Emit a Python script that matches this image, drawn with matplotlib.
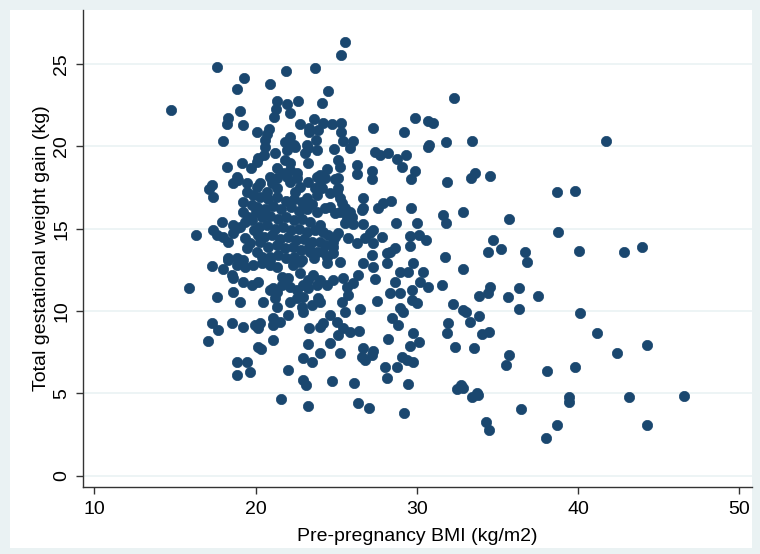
import matplotlib
matplotlib.use("Agg")
import matplotlib.pyplot as plt
from matplotlib.patches import Rectangle

bmi = [
    14.74, 15.9, 16.29,
    41.73, 42.85, 43.97, 41.17, 42.41, 44.27, 43.16, 46.57, 44.27,
    32.31, 33.42, 33.34, 33.63, 34.54, 38.67, 39.81, 32.85, 35.74, 38.78, 34.75, 34.42, 35.2, 36.69, 40.04, 36.82,
    32.85, 34.54, 34.44, 33.87, 36.36, 35.68, 37.52, 32.26, 32.88, 33.05, 36.32, 40.12, 33.84, 33.3,
    34.03, 34.5, 32.39, 33.55, 35.7, 35.55, 38.09, 39.81, 32.72, 32.85, 32.52, 33.72, 33.42, 33.8, 39.42, 39.44,
    36.44, 34.29, 34.5, 38.71, 38.03,
    25.55, 25.28, 24.51, 24.1, 24.2, 24.72, 25.32, 25.28, 25.4, 26.06, 27.3, 29.19, 29.91, 30.71, 31.02, 30.76, 31.81,
    17.59, 21.87, 23.67, 19.28, 20.91, 18.83, 21.35, 21.97, 22.61, 21.25, 22.14, 19.04, 21.16, 18.31, 18.21, 19.2,
    23.6, 22.78, 23.33, 23.3, 23.89, 20.85, 20.09, 20.71, 20.59, 17.96, 22.14, 21.83, 22.4, 23.17, 23.75,
    20.59, 20.52, 20.17, 20.07, 21.21, 21.93, 22.45, 23.07, 23.27, 23.79, 21.83, 22.14, 23.27, 18.25, 19.14, 19.7,
    21.35, 21.72, 22.14, 22.55, 20.9, 21.31, 21.0, 18.83, 18.93, 18.62, 17.28, 17.13, 17.38, 19.49, 20.07, 20.28,
    21.31, 20.69, 19.45, 19.86, 19.24, 19.76, 21.93, 22.14, 22.55, 22.76, 22.45, 23.27, 23.79, 23.69, 23.17, 23.79,
    19.24, 19.55, 19.35, 19.04, 17.9, 18.62, 18.83, 18.62, 17.38, 17.59, 18.0, 18.31, 19.35, 19.66, 19.45,
    20.17, 20.28, 20.07, 20.38, 18.31, 18.83, 23.38, 19.8, 19.9, 20.0,
    20.3, 20.8, 21.3, 21.9, 22.4, 22.9, 23.5, 20.1, 20.6, 21.1, 21.6, 22.2, 22.7, 23.2, 23.8,
    20.4, 20.9, 21.4, 21.9, 22.4, 22.9, 23.4, 20.2, 20.7, 21.2, 21.7, 22.2, 22.7, 23.2, 23.7,
    20.5, 21.0, 21.5, 22.0, 22.5, 23.0, 23.5, 20.8, 21.3, 21.8, 22.3, 22.8, 23.3, 23.8,
    20.9, 21.4, 21.9, 22.4, 22.9, 23.6,
    24.87, 25.86, 27.42, 27.72, 28.23, 28.75, 29.06, 29.33, 30.71, 29.89, 29.62, 31.85, 25.13, 25.24, 24.41, 24.0,
    26.27, 26.31, 27.2, 27.2, 24.31, 24.93, 25.13, 24.0, 24.1, 24.62, 25.13, 25.03, 25.24, 25.34, 25.55, 25.24,
    24.31, 24.93, 24.62, 25.86, 25.96, 25.65, 26.64, 26.68, 26.58, 27.61, 27.92, 28.38, 29.62, 31.64, 31.81,
    28.71, 30.03, 25.55, 26.06, 26.64, 24.0, 24.2, 24.51, 24.82, 24.31, 24.82, 25.13, 24.93, 25.75, 26.27, 26.79,
    27.1, 27.3, 27.3, 27.82, 29.58, 30.16, 30.57, 29.58, 28.65, 28.34, 28.13, 27.2, 31.75, 24.0, 24.2, 24.82, 24.41,
    17.28, 17.96, 17.59, 18.62, 19.04, 18.52, 18.62, 19.24, 19.76, 20.17, 18.83, 19.35, 19.86, 20.38, 20.9, 21.31,
    18.3, 19.2, 20.9, 20.48, 21.1, 21.31, 20.9, 21.21, 21.31, 21.62, 22.03, 21.62, 22.14, 22.55, 22.96, 23.27,
    22.76, 22.34, 22.76, 23.58, 23.79, 23.27, 22.14, 22.55, 22.96, 22.86, 22.96, 23.48, 23.89, 22.03, 21.52, 21.1,
    21.1, 17.28, 17.69, 18.52, 19.24, 19.97, 20.28, 20.17, 17.07, 21.06, 20.17, 20.32, 23.33, 23.27, 18.83, 19.49,
    19.66, 18.83, 22.03, 22.92, 23.48,
    22.92, 23.13, 21.56, 23.26,
    24.74, 26.1, 28.17, 29.47, 26.33, 27.02, 29.22,
    24.41, 25.24, 26.68, 27.3, 28.13, 29.78, 28.96, 29.47, 30.4, 24.0, 24.41, 24.82, 25.44, 26.06, 26.37, 27.41,
    28.65, 30.2, 30.71, 31.54, 25.65, 28.34, 28.96, 29.68, 25.75, 25.34, 26.48, 27.55, 29.68, 29.99, 24.0, 28.96,
    29.16, 25.55, 24.62, 25.03, 24.2, 24.0, 28.44, 28.85, 25.44, 25.86, 25.13, 26.43, 29.75, 30.16, 29.58, 28.23,
    24.62, 24.0, 25.24, 26.68, 27.3, 26.58, 27.2, 26.79, 29.06, 29.37, 29.78, 28.03, 28.79, 31.9, 31.96,
]

gain = [
    22.2, 11.42, 14.61,
    20.31, 13.6, 13.89, 8.65, 7.47, 7.94, 4.76, 4.86, 3.08,
    22.93, 20.34, 18.06, 18.36, 18.22, 17.2, 17.3, 16.01, 15.6, 14.8, 14.29, 13.6, 13.76, 13.56, 13.64, 13.0,
    12.53, 11.48, 11.07, 10.91, 11.4, 10.83, 10.89, 10.43, 10.06, 9.94, 10.12, 9.86, 9.71, 9.35,
    8.62, 8.74, 7.81, 7.77, 7.33, 6.72, 6.36, 6.58, 5.53, 5.34, 5.25, 5.04, 4.76, 4.9, 4.76, 4.49,
    4.05, 3.28, 2.77, 3.1, 2.31,
    26.31, 25.54, 23.38, 22.65, 21.43, 21.34, 21.43, 20.85, 20.32, 20.34, 21.13, 20.85, 21.74, 21.56, 21.43, 20.08, 20.26,
    24.8, 24.6, 24.75, 24.15, 23.76, 23.48, 22.73, 22.57, 22.73, 22.27, 22.04, 22.16, 21.76, 21.7, 21.34, 21.29,
    21.64, 21.34, 21.13, 20.85, 20.99, 21.03, 20.89, 20.75, 20.38, 20.32, 20.58, 20.28, 20.08, 20.08, 20.38,
    19.98, 19.47, 19.27, 19.07, 19.58, 19.78, 19.98, 19.58, 19.88, 19.78, 19.17, 18.97, 18.97, 18.76, 18.97, 18.66,
    18.66, 18.36, 18.56, 18.36, 18.15, 18.06, 17.75, 18.15, 17.95, 17.75, 17.65, 17.41, 16.94, 17.75, 17.55, 17.75,
    17.45, 17.24, 17.24, 17.04, 16.64, 16.44, 18.15, 17.85, 18.06, 17.55, 17.24, 17.85, 18.15, 17.45, 16.84, 17.04,
    16.03, 15.73, 15.42, 15.12, 15.38, 15.22, 15.02, 14.72, 14.92, 14.61, 14.51, 14.21, 14.41, 14.11, 13.81,
    14.61, 14.21, 13.6, 13.3, 13.2, 13.2, 13.6, 15.5, 14.9, 16.0,
    16.9, 16.8, 16.9, 16.7, 16.8, 16.6, 16.5, 16.3, 16.2, 16.4, 16.2, 16.3, 16.1, 16.2, 16.0,
    15.7, 15.8, 15.6, 15.7, 15.5, 15.6, 15.4, 15.1, 15.2, 15.0, 15.1, 14.9, 15.0, 14.8, 14.9,
    14.5, 14.6, 14.4, 14.5, 14.3, 14.4, 14.2, 13.9, 14.0, 13.8, 13.9, 13.7, 13.9, 13.6,
    13.3, 13.4, 13.2, 13.3, 13.1, 13.2,
    19.84, 19.92, 19.67, 19.47, 19.58, 19.23, 18.76, 19.47, 19.98, 18.5, 18.0, 17.85, 19.17, 18.76, 18.62, 18.26,
    18.86, 18.3, 18.5, 18.0, 18.06, 18.0, 18.06, 17.65, 17.45, 17.15, 17.45, 17.24, 16.84, 16.54, 16.24, 16.03,
    16.24, 15.93, 16.33, 16.03, 15.73, 15.73, 16.88, 16.24, 16.13, 16.24, 16.54, 16.68, 16.27, 15.83, 15.32,
    15.34, 15.32, 15.32, 15.28, 15.28, 15.22, 14.81, 14.61, 14.21, 14.01, 13.9, 14.72, 14.51, 14.41, 14.11, 14.41,
    14.72, 14.92, 14.11, 14.51, 14.57, 14.61, 14.31, 13.95, 13.81, 13.6, 13.5, 13.4, 13.3, 14.21, 13.6, 13.5, 13.3,
    12.73, 12.53, 10.83, 11.17, 10.57, 12.19, 11.99, 11.78, 11.58, 11.78, 12.79, 12.69, 12.79, 12.9, 12.79, 12.69,
    13.1, 13.1, 13.1, 10.57, 11.38, 11.17, 11.28, 10.77, 10.26, 12.08, 11.99, 11.58, 11.48, 11.28, 11.58, 11.88,
    12.29, 12.79, 12.99, 12.19, 11.58, 11.38, 10.57, 10.77, 10.87, 10.26, 9.96, 10.36, 10.77, 9.76, 9.35, 9.56,
    9.15, 9.25, 8.85, 9.25, 9.05, 9.15, 9.25, 8.95, 8.2, 8.24, 7.8, 7.67, 8.95, 8.0, 6.92, 6.92,
    6.31, 6.11, 6.42, 7.13, 6.92,
    5.81, 5.51, 4.66, 4.25,
    5.77, 5.61, 5.91, 5.57, 4.43, 4.09, 3.83,
    12.9, 12.99, 12.9, 12.69, 12.9, 12.9, 12.39, 12.39, 12.39, 11.88, 11.58, 11.88, 11.99, 11.68, 12.19, 11.93,
    11.78, 11.78, 11.44, 11.58, 11.48, 11.07, 11.11, 11.28, 10.97, 10.57, 10.12, 10.63, 10.67, 10.5, 10.57, 10.16,
    9.96, 9.96, 9.76, 9.35, 9.25, 9.05, 9.56, 9.15, 8.95, 8.74, 8.54, 8.8, 8.65, 8.14, 7.88, 8.3,
    8.04, 7.43, 7.43, 7.74, 7.59, 7.23, 7.33, 7.03, 7.19, 7.03, 6.92, 6.58, 6.62, 8.68, 9.25,
]

x_ticks = [10, 20, 30, 40, 50]
y_ticks = [0, 5, 10, 15, 20, 25]
x_title = "Pre-pregnancy BMI (kg/m2)"
y_title = "Total gestational weight gain (kg)"

W, H = 760, 554
fig = plt.figure(figsize=(W / 100, H / 100), dpi=100)
fig.patch.set_facecolor("#EAF2F3")
bg = Rectangle((10 / W, 6 / H), 742 / W, 538 / H, transform=fig.transFigure,
               facecolor="white", edgecolor="none", zorder=-10)
fig.patches.append(bg)

ax = fig.add_axes([82.7 / W, 1 - 487 / H, (751.7 - 82.7) / W, (487 - 10) / H])
ax.set_zorder(5)
ax.set_facecolor("white")
ax.scatter(bmi, gain, s=55, color="#1A476F", edgecolors="#1A476F", linewidths=0.5, zorder=3)

ax.set_xlim(9.28, 50.77)
ax.set_ylim(-0.686, 28.28)
ax.set_xticks(x_ticks)
ax.set_yticks(y_ticks)
ax.grid(axis="y", color="#EAF2F3", linewidth=1.2, zorder=0)
ax.set_axisbelow(True)
for s in ["top", "right"]:
    ax.spines[s].set_visible(False)
for s in ["left", "bottom"]:
    ax.spines[s].set_color("#333333")
    ax.spines[s].set_linewidth(1.0)
ax.tick_params(axis="both", direction="out", length=5, width=1, color="#333333",
               labelsize=14, labelcolor="black")
for lbl in ax.get_yticklabels():
    lbl.set_rotation(90)
    lbl.set_va("center")
ax.tick_params(axis="x", pad=5)
ax.tick_params(axis="y", pad=4)
ax.set_xlabel(x_title, fontsize=14, family="Liberation Sans", labelpad=7)
ax.set_ylabel(y_title, fontsize=14, family="Liberation Sans", labelpad=2)
for lbl in ax.get_xticklabels() + ax.get_yticklabels():
    lbl.set_family("Liberation Sans")

fig.savefig("out.png", dpi=100, facecolor=fig.get_facecolor())
